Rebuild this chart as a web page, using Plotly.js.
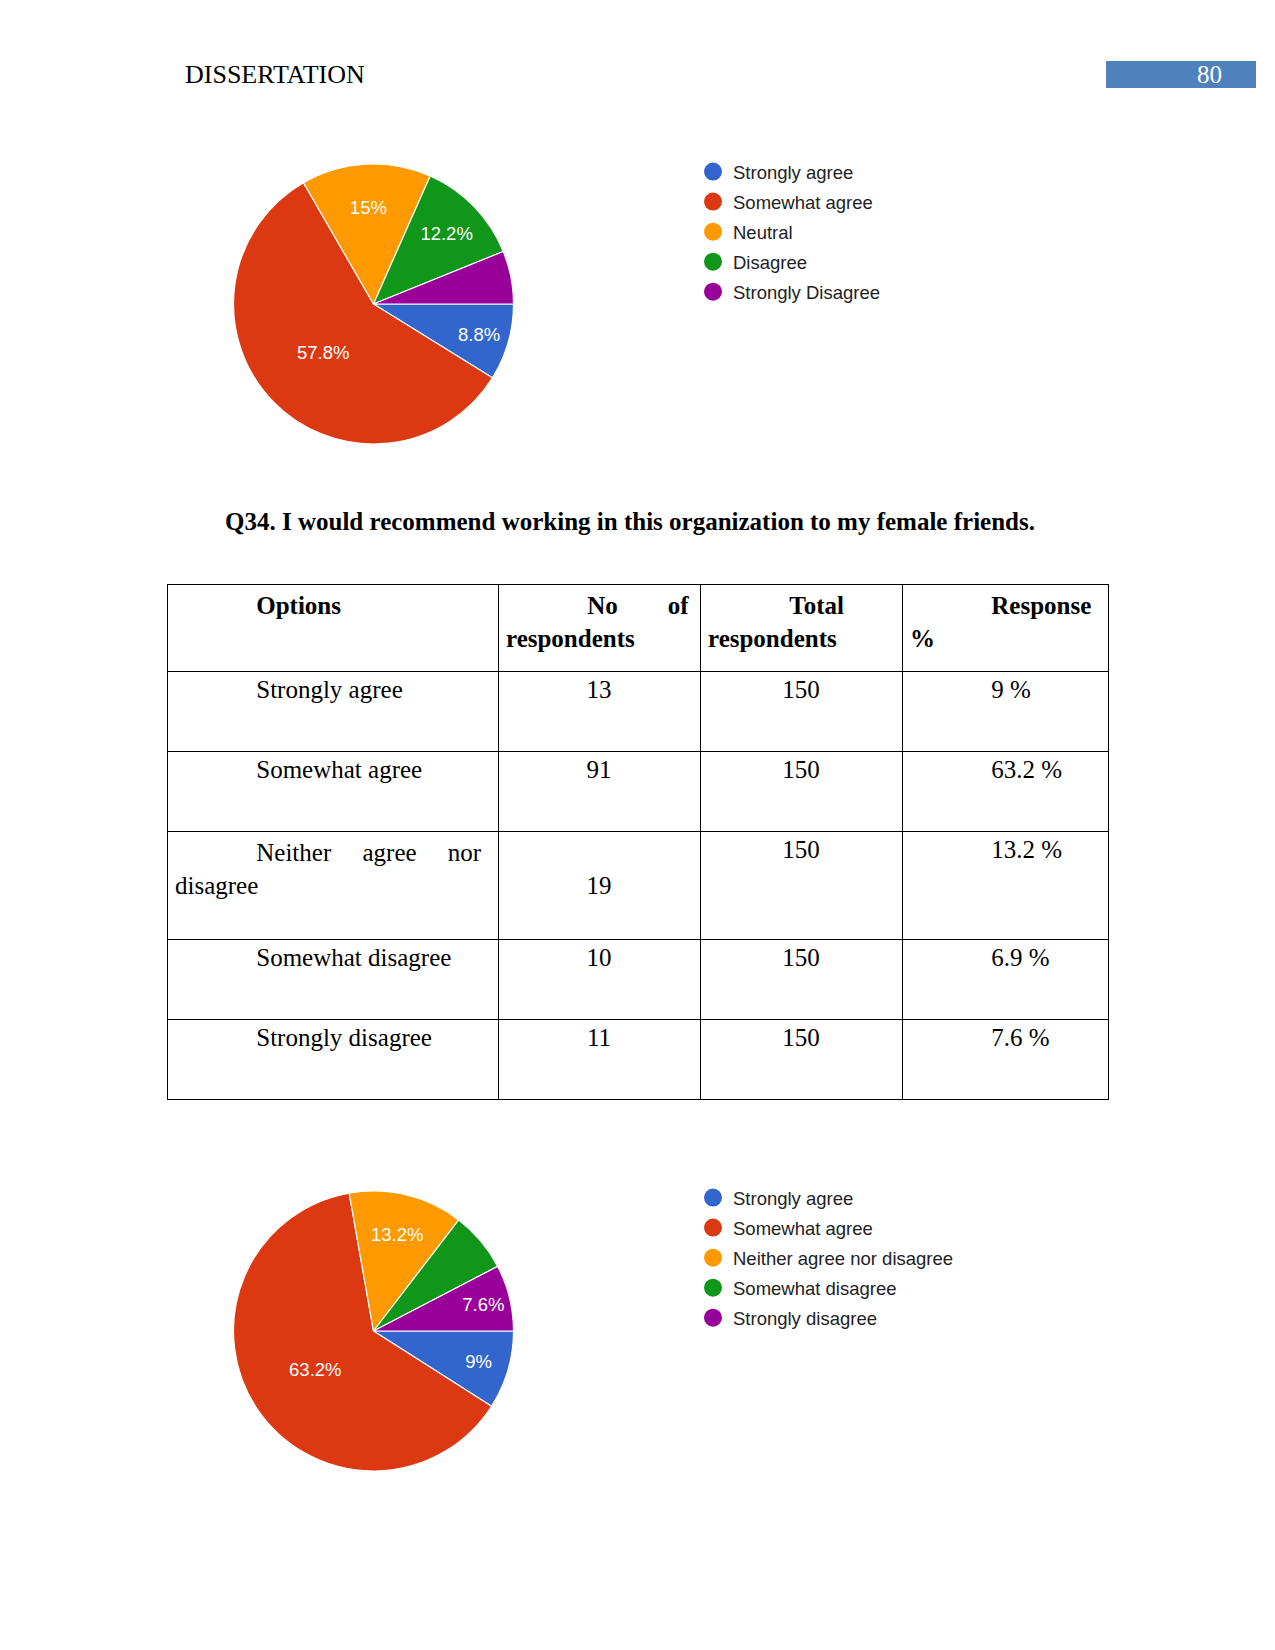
<!DOCTYPE html>
<html><head><meta charset="utf-8">
<script src="https://cdn.plot.ly/plotly-3.0.1.min.js"></script>
<style>html,body{margin:0;padding:0;background:#fff;} #page{width:1275px;height:1650px;}</style>
</head><body><div id="page"></div>
<script>
// ---------------- data ----------------
const pageHeader = 'DISSERTATION';
const pageNumber = '80';

const q33Labels = ['Strongly agree', 'Somewhat agree', 'Neutral', 'Disagree', 'Strongly Disagree'];
const q33Counts = [13, 85, 22, 18, 9];

const q34Title = 'Q34. I would recommend working in this organization to my female friends.';
const tableHeaders = ['Options', 'No of respondents', 'Total respondents', 'Response %'];
const q34Options = ['Strongly agree', 'Somewhat agree', 'Neither agree nor disagree', 'Somewhat disagree', 'Strongly disagree'];
const q34Respondents = [13, 91, 19, 10, 11];
const q34Total = [150, 150, 150, 150, 150];
const q34ResponsePct = [9, 63.2, 13.2, 6.9, 7.6];

const q34Labels = ['Strongly agree', 'Somewhat agree', 'Neither agree nor disagree', 'Somewhat disagree', 'Strongly disagree'];
const sliceColors = ['#3366CC', '#DC3912', '#FF9900', '#109618', '#990099'];

// ---------------- helpers ----------------
const W = 1275, H = 1650;
const px = x => x / W;
const py = y => 1 - y / H;
const SERIF = '"Liberation Serif", "Times New Roman", serif';
const SANS = '"Liberation Sans", Arial, sans-serif';
const FS = 25;
const NB = '\u00a0';
const CELL_PAD = 8, RIGHT_GAP = 5, INDENT = 13;

const ctx = document.createElement('canvas').getContext('2d');
function textW(s, bold) {
  ctx.font = (bold ? 'bold ' : '') + FS + 'px "Liberation Serif"';
  return ctx.measureText(s).width;
}
// first-line indented, word-wrapped, justified paragraph (like the Word document)
function para(text, width, bold) {
  const words = String(text).split(' ');
  const indentW = textW(NB.repeat(INDENT), bold);
  const avail = width - 2 * CELL_PAD - RIGHT_GAP;
  const lines = []; let cur = [];
  words.forEach(w => {
    const trial = cur.concat([w]);
    const lim = avail - (lines.length === 0 ? indentW : 0);
    if (cur.length && textW(trial.join(' '), bold) > lim) { lines.push(cur); cur = [w]; }
    else cur = trial;
  });
  lines.push(cur);
  return lines.map((ws, i) => {
    const lim = avail - (i === 0 ? indentW : 0);
    let s;
    if (i < lines.length - 1 && ws.length > 1) {
      const gaps = ws.length - 1;
      const n = Math.max(1, Math.round((lim - textW(ws.join(''), bold)) / gaps / textW(NB, bold)));
      s = ws.join(NB.repeat(n));
    } else s = ws.join(' ');
    s = (i === 0 ? NB.repeat(INDENT) : '') + s;
    return bold ? '<b>' + s + '</b>' : s;
  });
}

const colWidths = [331, 202, 202, 206];
const tableLeft = 167, tableRight = 1108, tableTop = 584, tableBottom = 1104;

const headerCells = tableHeaders.map((h, i) => para(h, colWidths[i], true).join('<br>'));
const optionLines = q34Options.map(o => para(o, colWidths[0], false));
const colOptions = optionLines.map(l => l.join('<br>'));
// respondents column is vertically centred in the row: pad with blank lines above and below
const colResp = q34Respondents.map((v, i) => {
  const pad = optionLines[i].length - 1;
  return pad > 0 ? Array(pad).fill(NB).concat([String(v)], Array(pad).fill(NB)).join('<br>') : String(v);
});
const colTotal = q34Total.map(v => String(v));
const colPct = q34ResponsePct.map(v => NB.repeat(INDENT) + v + ' %');

function pieText(values) {
  const s = values.reduce((a, b) => a + b, 0);
  return values.map(v => (v / s >= 0.07 ? '%{percent:.1~%}' : ''));
}

function pieTrace(labels, values, top) {
  return {
    type: 'pie', labels: labels, values: values, sort: false,
    direction: 'clockwise', rotation: 90,
    marker: { colors: sliceColors, line: { color: '#ffffff', width: 1.2 } },
    texttemplate: pieText(values), textposition: 'inside',
    insidetextorientation: 'horizontal',
    textfont: { family: SANS, size: 18.5, color: '#ffffff' },
    domain: { x: [px(233.5), px(513.5)], y: [py(top + 280), py(top)] },
    showlegend: false, hoverinfo: 'none'
  };
}

function legendTraces(labels, legendId) {
  return labels.map((lab, i) => ({
    type: 'scatter', mode: 'markers', x: [null], y: [null],
    name: lab, legend: legendId, legendgroup: legendId + i,
    marker: { color: sliceColors[i], size: 16, symbol: 'circle', line: { color: sliceColors[i], width: 2 } },
    showlegend: true, hoverinfo: 'none'
  }));
}

const data = [
  pieTrace(q33Labels, q33Counts, 164),
  pieTrace(q34Labels, q34Respondents, 1191),
  ...legendTraces(q33Labels, 'legend'),
  ...legendTraces(q34Labels, 'legend2'),
  {
    type: 'table',
    columnwidth: colWidths,
    domain: { x: [px(tableLeft), px(tableRight)], y: [py(tableBottom), py(tableTop)] },
    header: {
      values: headerCells, align: 'left', height: 87,
      font: { family: SERIF, size: FS, color: '#000000' },
      line: { color: '#000000', width: 1 }, fill: { color: '#ffffff' }
    },
    cells: {
      values: [colOptions, colResp, colTotal, colPct],
      align: ['left', 'center', 'center', 'left'], height: 80,
      font: { family: SERIF, size: FS, color: '#000000' },
      line: { color: '#000000', width: 1 }, fill: { color: '#ffffff' }
    }
  }
];

const legendBase = {
  xanchor: 'left', yanchor: 'top', bgcolor: 'rgba(0,0,0,0)', borderwidth: 0,
  font: { family: SANS, size: 18.5, color: '#222222' }, tracegroupgap: 3,
  itemclick: false, itemdoubleclick: false
};

const layout = {
  width: W, height: H, margin: { l: 0, r: 0, t: 0, b: 0 },
  paper_bgcolor: '#ffffff', plot_bgcolor: '#ffffff',
  xaxis: { visible: false, fixedrange: true },
  yaxis: { visible: false, fixedrange: true },
  title: {
    text: '<b>' + q34Title + '</b>', x: px(630), xanchor: 'center',
    y: py(521), yanchor: 'middle', font: { family: SERIF, size: FS, color: '#000000' }
  },
  legend: Object.assign({ x: px(693), y: py(153) }, legendBase),
  legend2: Object.assign({ x: px(693), y: py(1179) }, legendBase),
  shapes: [{
    type: 'rect', xref: 'paper', yref: 'paper',
    x0: px(1106), x1: px(1256), y0: py(88), y1: py(61),
    fillcolor: '#4F81BD', line: { width: 0 }, layer: 'below'
  }],
  annotations: [
    { text: pageHeader, xref: 'paper', yref: 'paper', x: px(183), y: py(75), xanchor: 'left', yanchor: 'middle',
      showarrow: false, font: { family: SERIF, size: 26, color: '#000000' } },
    { text: pageNumber, xref: 'paper', yref: 'paper', x: px(1209), y: py(75), xanchor: 'center', yanchor: 'middle',
      showarrow: false, font: { family: SERIF, size: FS, color: '#ffffff' } }
  ],
  hovermode: false
};

Plotly.newPlot('page', data, layout, { staticPlot: true, displayModeBar: false });
</script>
</body></html>
